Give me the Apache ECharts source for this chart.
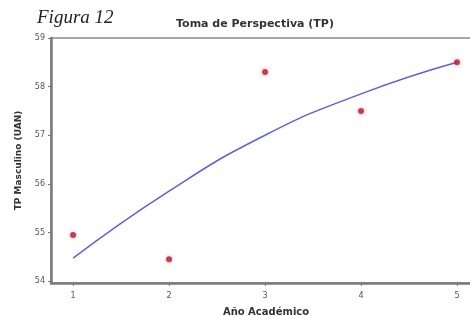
<!DOCTYPE html>
<html>
<head>
<meta charset="utf-8">
<script src="https://cdn.jsdelivr.net/npm/echarts@6/dist/echarts.min.js"></script>
<style>
  html, body { margin: 0; padding: 0; background: #fff; }
  #chart { width: 470px; height: 316px; }
</style>
</head>
<body>
<div id="chart"></div>
<script>
// Año académico 1..5
const years = [1, 2, 3, 4, 5];
// puntos observados (TP masculino)
const observed = [54.95, 54.45, 58.3, 57.5, 58.5];
// curva ajustada
const fitted = [54.47, 55.85, 57.0, 57.85, 58.5];
const xTicks = [1, 2, 3, 4, 5];
const yTicks = [54, 55, 56, 57, 58, 59];

const myChart = echarts.init(document.getElementById('chart'));
const option = {
  animation: false,
  title: [
    {
      text: 'Figura 12',
      left: 32, top: 3,
      textStyle: { fontFamily: 'Liberation Serif', fontStyle: 'italic', fontWeight: 'normal', fontSize: 19, color: '#222' }
    },
    {
      text: 'Toma de Perspectiva (TP)',
      left: 250, top: 14, textAlign: 'center',
      textStyle: { fontFamily: 'DejaVu Sans', fontWeight: 'bold', fontSize: 11, color: '#333' }
    }
  ],
  grid: {
    left: 51, top: 38, width: 430, height: 245,
    outerBoundsMode: 'none',
    show: true, borderColor: '#8a8a8a', borderWidth: 1.5, backgroundColor: 'transparent'
  },
  xAxis: {
    type: 'value',
    min: 0.77, max: 5.25,
    name: 'Año Académico',
    nameLocation: 'middle', nameGap: 24,
    nameTextStyle: { fontFamily: 'DejaVu Sans', fontWeight: 'bold', fontSize: 10, color: '#333' },
    axisLine: { show: true, lineStyle: { color: '#7a7a7a', width: 2.5 } },
    axisTick: { show: true, customValues: xTicks, length: 3, lineStyle: { color: '#777' } },
    axisLabel: { customValues: xTicks, fontFamily: 'DejaVu Sans', fontSize: 8, color: '#555', margin: 9 },
    splitLine: { show: false }
  },
  yAxis: {
    type: 'value',
    min: 53.96, max: 59,
    name: 'TP Masculino (UAN)',
    nameLocation: 'middle', nameGap: 28, nameRotate: 90,
    nameTextStyle: { fontFamily: 'DejaVu Sans', fontWeight: 'bold', fontSize: 9, color: '#333' },
    axisLine: { show: true, lineStyle: { color: '#7a7a7a', width: 2.5 } },
    axisTick: { show: true, customValues: yTicks, length: 3, lineStyle: { color: '#777' } },
    axisLabel: { customValues: yTicks, fontFamily: 'DejaVu Sans', fontSize: 8, color: '#555', margin: 6 },
    splitLine: { show: false }
  },
  series: [
    {
      type: 'line',
      data: years.map((x, i) => [x, fitted[i]]),
      smooth: true,
      showSymbol: false,
      lineStyle: { color: '#5f5fe0', width: 1.5 },
      z: 2
    },
    {
      type: 'scatter',
      data: years.map((x, i) => [x, observed[i]]),
      symbolSize: 6,
      itemStyle: { color: '#b81830', shadowColor: 'rgba(230,80,100,0.6)', shadowBlur: 4 },
      z: 3
    }
  ]
};
myChart.setOption(option);
</script>
</body>
</html>
